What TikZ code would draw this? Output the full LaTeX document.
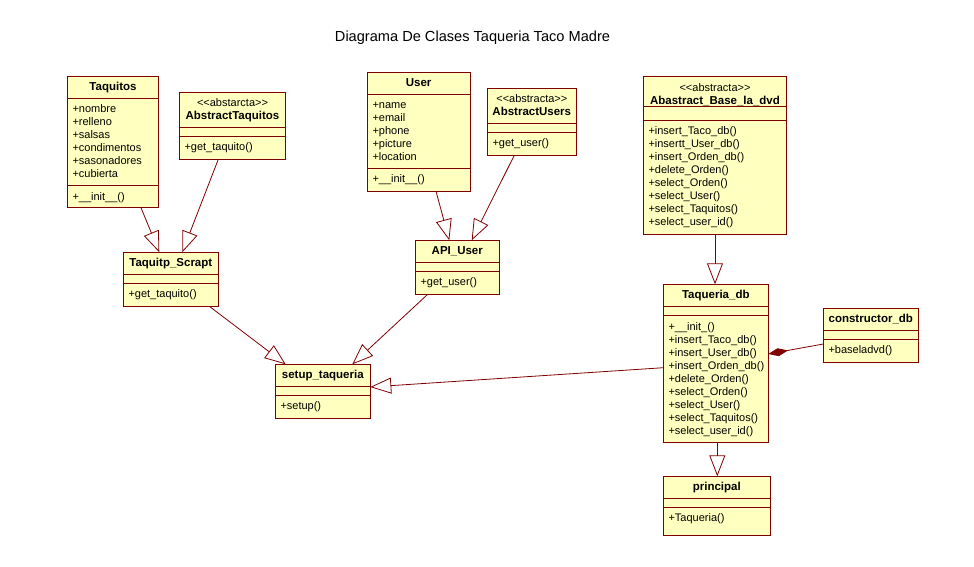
\documentclass[tikz,border=0pt]{standalone}
\usepackage{fontspec}
\setmainfont{Liberation Sans}
\usetikzlibrary{arrows.meta}
\definecolor{umlred}{HTML}{800000}
\definecolor{umlfill}{HTML}{FFFFC0}
\tikzset{
  classbox/.style={draw=umlred, fill=umlfill, line width=0.9pt, rectangle, inner sep=0pt, outer sep=0pt},
  classline/.style={draw=umlred, line width=0.9pt},
  txt/.style={anchor=base, inner sep=0pt, font=\fontsize{11}{13}\selectfont},
  mem/.style={anchor=base west, inner sep=0pt, font=\fontsize{11}{13}\selectfont},
  gen/.style={draw=umlred, line width=0.8pt, -{Triangle[open, length=21pt, width=16pt]}},
  comp/.style={draw=umlred, line width=0.8pt, -{Diamond[length=20pt, width=8pt, fill=umlred]}},
  heading/.style={anchor=base, inner sep=0pt, font=\fontsize{14.6}{17}\selectfont},
}
\newcommand\cls[1]{{\bfseries\fontsize{11.5}{13}\selectfont #1}}
\newcommand\stereo[1]{<\kern0pt<#1>\kern0pt>}
% id x1 y1 x2 y2 sep1 sep2
\newcommand\UMLbox[7]{%
  \pgfmathsetmacro\umlW{#4-#2}\pgfmathsetmacro\umlH{#5-#3}%
  \pgfmathsetmacro\umlA{#6-#3}\pgfmathsetmacro\umlB{#7-#3}%
  \node[classbox, minimum width=\umlW pt, minimum height=\umlH pt, anchor=north west] (#1) at (#2,#3) {};
  \draw[classline] ([shift={(0,\umlA)}]#1.north west) -- ([shift={(0,\umlA)}]#1.north east);
  \draw[classline] ([shift={(0,\umlB)}]#1.north west) -- ([shift={(0,\umlB)}]#1.north east);
  \coordinate (#1-t) at ([shift={(\umlW/2,14.5)}]#1.north west);
  \coordinate (#1-a) at ([shift={(5,\umlA+14.5)}]#1.north west);
  \coordinate (#1-m) at ([shift={(5,\umlB+14.5)}]#1.north west);
}
\newcommand\UMLlines[3]{%
  \foreach \umlitem [count=\i] in {#2} {%
    \pgfmathsetmacro\umldy{13*(\i-1)}%
    \node[#3] (#1-\i) at ([shift={(0,\umldy)}]#1) {\umlitem};
  }%
}
\begin{document}
\begin{tikzpicture}[x=1pt,y=-1pt]
\fill[white] (0,0) rectangle (974,567);

\node[heading] (title) at (472.5,41.7) {Diagrama De Clases Taqueria Taco Madre};

% Taquitos
\UMLbox{taquitos}{67.3}{76}{158.7}{207.7}{98.3}{185.7}
\UMLlines{taquitos-t}{{\cls{Taquitos}}}{txt}
\UMLlines{taquitos-a}{+nombre,+relleno,+salsas,+condimentos,+sasonadores,+cubierta}{mem}
\UMLlines{taquitos-m}{+\_\_init\_\_()}{mem}

% AbstractTaquitos
\UMLbox{abstaq}{179.3}{92.3}{285.7}{159.3}{127.3}{136}
\UMLlines{abstaq-t}{{\stereo{abstarcta}},{\cls{AbstractTaquitos}}}{txt}
\UMLlines{abstaq-m}{+get\_taquito()}{mem}

% User
\UMLbox{user}{367.3}{72.3}{470}{191.3}{94.3}{168.3}
\UMLlines{user-t}{{\cls{User}}}{txt}
\UMLlines{user-a}{+name,+email,+phone,+picture,+location}{mem}
\UMLlines{user-m}{+\_\_init\_\_()}{mem}

% AbstractUsers
\UMLbox{absusers}{487.3}{88.3}{576.3}{155.3}{123.3}{132.3}
\UMLlines{absusers-t}{{\stereo{abstracta}},{\cls{AbstractUsers}}}{txt}
\UMLlines{absusers-m}{+get\_user()}{mem}

% Abastract_Base_la_dvd
\UMLbox{absbase}{643.3}{76.7}{786.7}{234.3}{106.7}{120}
\UMLlines{absbase-t}{{\stereo{abstracta}},{\cls{Abastract\_Base\_la\_dvd}}}{txt}
\UMLlines{absbase-m}{+insert\_Taco\_db(),+insertt\_User\_db(),+insert\_Orden\_db(),+delete\_Orden(),+select\_Orden(),+select\_User(),+select\_Taquitos(),+select\_user\_id()}{mem}

% Taqueria_db
\UMLbox{taqdb}{663.3}{284.3}{768.3}{442.3}{306.7}{315.7}
\UMLlines{taqdb-t}{{\cls{Taqueria\_db}}}{txt}
\UMLlines{taqdb-m}{+\_\_init\_(),+insert\_Taco\_db(),+insert\_User\_db(),+insert\_Orden\_db(),+delete\_Orden(),+select\_Orden(),+select\_User(),+select\_Taquitos(),+select\_user\_id()}{mem}

% constructor_db
\UMLbox{constr}{823.3}{308.3}{918.3}{362.3}{330.3}{339.3}
\UMLlines{constr-t}{{\cls{constructor\_db}}}{txt}
\UMLlines{constr-m}{+baseladvd()}{mem}

% Taquitp_Scrapt
\UMLbox{scrapt}{123.3}{252.3}{218.3}{306.3}{274.3}{283.3}
\UMLlines{scrapt-t}{{\cls{Taquitp\_Scrapt}}}{txt}
\UMLlines{scrapt-m}{+get\_taquito()}{mem}

% API_User
\UMLbox{apiuser}{415.3}{240.3}{499.3}{294.3}{262.3}{271.3}
\UMLlines{apiuser-t}{{\cls{API\_User}}}{txt}
\UMLlines{apiuser-m}{+get\_user()}{mem}

% setup_taqueria
\UMLbox{setup}{275.3}{364.3}{370.3}{418.3}{386.3}{395.3}
\UMLlines{setup-t}{{\cls{setup\_taqueria}}}{txt}
\UMLlines{setup-m}{+setup()}{mem}

% principal
\UMLbox{principal}{663.3}{476.3}{770.3}{535.3}{498.3}{507.3}
\UMLlines{principal-t}{{\cls{principal}}}{txt}
\UMLlines{principal-m}{+Taqueria()}{mem}

% generalizations
\draw[gen] ([shift={(73.7,0)}]taquitos.south west) -- ([shift={(36,0)}]scrapt.north west);
\draw[gen] ([shift={(39,0)}]abstaq.south west) -- ([shift={(59,0)}]scrapt.north west);
\draw[gen] ([shift={(68.7,0)}]user.south west) -- ([shift={(34,0)}]apiuser.north west);
\draw[gen] ([shift={(27,0)}]absusers.south west) -- ([shift={(56.4,0)}]apiuser.north west);
\draw[gen] ([shift={(86,0)}]scrapt.south west) -- ([shift={(10.4,0)}]setup.north west);
\draw[gen] ([shift={(12.4,0)}]apiuser.south west) -- ([shift={(77,0)}]setup.north west);
\draw[gen] ([shift={(71.7,0)}]absbase.south west) -- ([shift={(51.7,0)}]taqdb.north west);
\draw[gen] ([shift={(54,0)}]taqdb.south west) -- ([shift={(54,0)}]principal.north west);
\draw[gen] ([shift={(0,83.4)}]taqdb.north west) -- ([shift={(0,22.7)}]setup.north east);

% composition
\draw[comp] ([shift={(0,35.7)}]constr.north west) -- ([shift={(0,69.7)}]taqdb.north east);
\end{tikzpicture}
\end{document}
